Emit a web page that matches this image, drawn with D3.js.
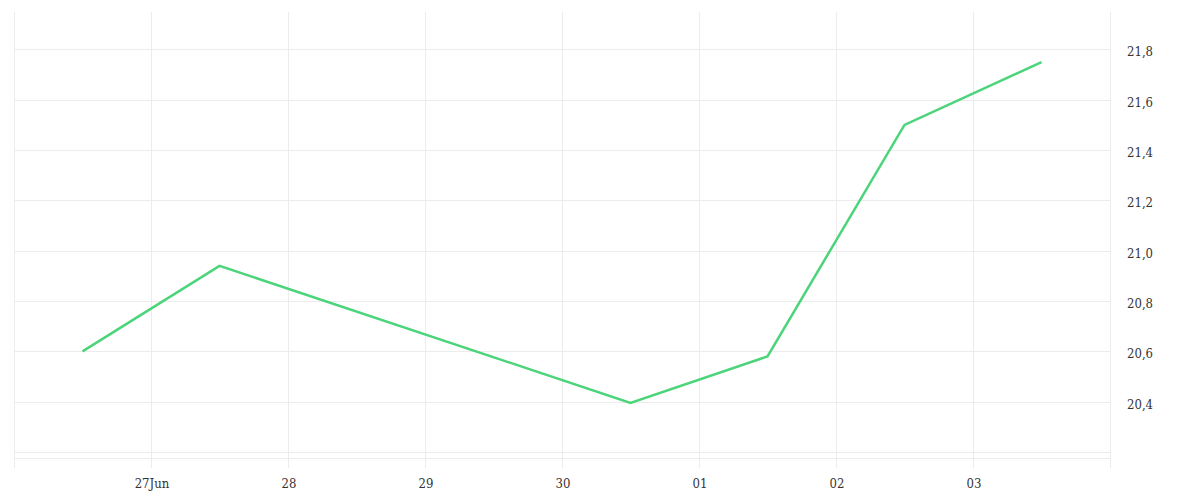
<!DOCTYPE html>
<html>
<head>
<meta charset="utf-8">
<script src="https://cdn.jsdelivr.net/npm/d3@7"></script>
<style>
  html, body { margin: 0; padding: 0; background: #ffffff; }
  svg { display: block; }
  text { font-family: "DejaVu Serif Condensed", "DejaVu Serif", serif; font-stretch: condensed; font-size: 13px; fill: #333333; }
</style>
</head>
<body>
<svg id="chart" width="1200" height="500"></svg>
<script>
// ---- data ----
const dates = ["2023-06-26T12:00", "2023-06-27T12:00", "2023-06-30T12:00", "2023-07-01T12:00", "2023-07-02T12:00", "2023-07-03T12:00"];
const values = [20.60, 20.94, 20.395, 20.58, 21.50, 21.75];
const xTickDates = ["2023-06-27", "2023-06-28", "2023-06-29", "2023-06-30", "2023-07-01", "2023-07-02", "2023-07-03"];
const xTickLabels = ["27Jun", "28", "29", "30", "01", "02", "03"];
const yTicks = [20.2, 20.4, 20.6, 20.8, 21.0, 21.2, 21.4, 21.6, 21.8];
const yTickLabels = ["", "20,4", "20,6", "20,8", "21,0", "21,2", "21,4", "21,6", "21,8"];
const xDomain = ["2023-06-26T00:00", "2023-07-04T00:00"];
const yDomain = [20.176, 21.949];

(function () {
// ---- layout ----
const pLeft = 14, pRight = 1110, pTop = 12, pBottom = 458;
const parse = d3.timeParse("%Y-%m-%dT%H:%M");
const parseDay = d3.timeParse("%Y-%m-%d");

const svg = d3.select("#chart");
const x = d3.scaleTime().domain(xDomain.map(parse)).range([pLeft, pRight]);
const y = d3.scaleLinear().domain(yDomain).range([pBottom, pTop]);

const grid = "#ececec";

// vertical grid lines (edges + daily ticks)
const vLines = [parse(xDomain[0])].concat(xTickDates.map(parseDay)).concat([parse(xDomain[1])]);
svg.append("g").selectAll("line").data(vLines).join("line")
  .attr("x1", d => Math.round(x(d)) + 0.5).attr("x2", d => Math.round(x(d)) + 0.5)
  .attr("y1", pTop).attr("y2", 468)
  .attr("stroke", grid).attr("stroke-width", 1);

// horizontal grid lines
svg.append("g").selectAll("line").data(yTicks).join("line")
  .attr("x1", pLeft + 1).attr("x2", pRight)
  .attr("y1", d => Math.round(y(d)) + 0.5).attr("y2", d => Math.round(y(d)) + 0.5)
  .attr("stroke", grid).attr("stroke-width", 1);

// bottom axis line
svg.append("line")
  .attr("x1", pLeft + 1).attr("x2", pRight)
  .attr("y1", pBottom + 0.5).attr("y2", pBottom + 0.5)
  .attr("stroke", grid).attr("stroke-width", 1);

// x labels
svg.append("g").selectAll("text").data(xTickDates).join("text")
  .attr("x", d => x(parseDay(d)) + 1)
  .attr("y", 488)
  .attr("text-anchor", "middle")
  .text((d, i) => xTickLabels[i]);

// y labels
svg.append("g").selectAll("text").data(yTicks).join("text")
  .attr("x", 1127)
  .attr("y", d => y(d) + 7)
  .attr("text-anchor", "start")
  .text((d, i) => yTickLabels[i]);

// line
const line = d3.line()
  .x((d, i) => x(parse(dates[i])))
  .y(d => y(d));
svg.append("path")
  .datum(values)
  .attr("d", line)
  .attr("fill", "none")
  .attr("stroke", "#4cd47b")
  .attr("stroke-width", 2.5)
  .attr("stroke-linejoin", "miter");
})();
</script>
</body>
</html>
